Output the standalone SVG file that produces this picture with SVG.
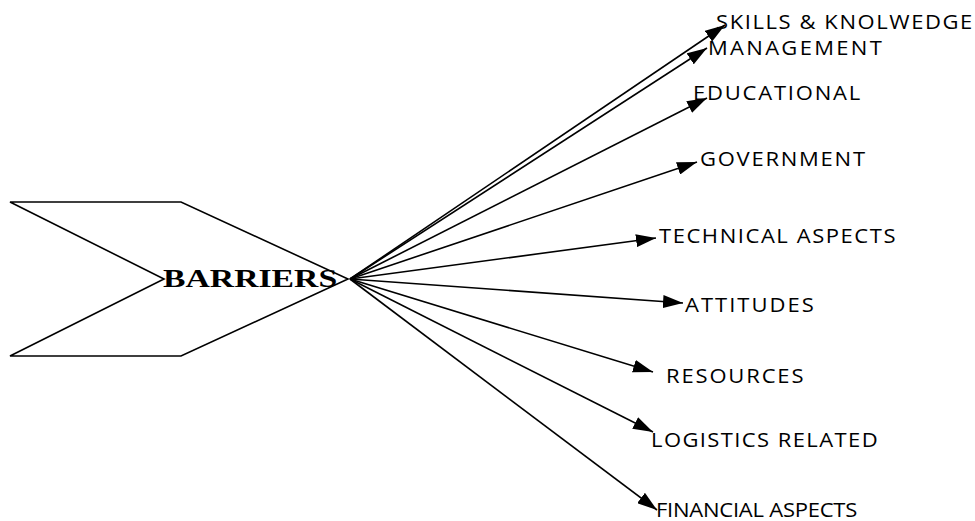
<svg xmlns="http://www.w3.org/2000/svg" width="975" height="521" viewBox="0 0 975 521">
<style>
.lbl{font-family:"Open Sans","Liberation Sans",sans-serif;font-size:20px;fill:#000}
.main{font-family:"Liberation Serif","Times New Roman",serif;font-size:25px;font-weight:bold;fill:#000}
.conn{stroke:#000;stroke-width:1.6;fill:none;marker-end:url(#ah)}
</style>
<defs>
<marker id="ah" markerUnits="userSpaceOnUse" markerWidth="22" markerHeight="13" refX="20" refY="6.5" orient="auto" viewBox="0 0 22 13">
<path d="M0,0 L20,6.5 L0,13 Z" fill="#000"/>
</marker>
</defs>
<rect width="975" height="521" fill="#fff"/>
<g id="barriers">
<polygon points="10,202 181,202 348,279 181,356 10,356 164,279" fill="#fff" stroke="#000" stroke-width="1.6"/>
<text class="main" transform="translate(163,287) scale(1.35,1)" x="0" y="0" textLength="129" lengthAdjust="spacingAndGlyphs">BARRIERS</text>
</g>
<g id="connectors">
<line class="conn" x1="350" y1="279" x2="725" y2="25"/>
<line class="conn" x1="350" y1="279" x2="707" y2="48"/>
<line class="conn" x1="350" y1="279" x2="707" y2="98"/>
<line class="conn" x1="350" y1="279" x2="697" y2="162"/>
<line class="conn" x1="350" y1="279" x2="656" y2="238"/>
<line class="conn" x1="350" y1="279" x2="683" y2="303"/>
<line class="conn" x1="350" y1="279" x2="653" y2="372"/>
<line class="conn" x1="350" y1="279" x2="653" y2="432"/>
<line class="conn" x1="350" y1="279" x2="657" y2="510"/>
</g>
<g id="skills"><text class="lbl" transform="translate(716,29) scale(1.1,1)" textLength="233" lengthAdjust="spacing">SKILLS &amp; KNOLWEDGE</text></g>
<g id="management"><text class="lbl" transform="translate(708,55) scale(1.1,1)" textLength="158" lengthAdjust="spacing">MANAGEMENT</text></g>
<g id="educational"><text class="lbl" transform="translate(693,100) scale(1.1,1)" textLength="152" lengthAdjust="spacing">EDUCATIONAL</text></g>
<g id="government"><text class="lbl" transform="translate(700,166) scale(1.1,1)" textLength="150" lengthAdjust="spacing">GOVERNMENT</text></g>
<g id="technical"><text class="lbl" transform="translate(659,243) scale(1.1,1)" textLength="215" lengthAdjust="spacing">TECHNICAL ASPECTS</text></g>
<g id="attitudes"><text class="lbl" transform="translate(685,312) scale(1.1,1)" textLength="117" lengthAdjust="spacing">ATTITUDES</text></g>
<g id="resources"><text class="lbl" transform="translate(666,383) scale(1.1,1)" textLength="125" lengthAdjust="spacing">RESOURCES</text></g>
<g id="logistics"><text class="lbl" transform="translate(651,447) scale(1.1,1)" textLength="206" lengthAdjust="spacing">LOGISTICS RELATED</text></g>
<g id="financial"><text class="lbl" transform="translate(656,517) scale(1.1,1)" textLength="183" lengthAdjust="spacing">FINANCIAL ASPECTS</text></g>
</svg>
